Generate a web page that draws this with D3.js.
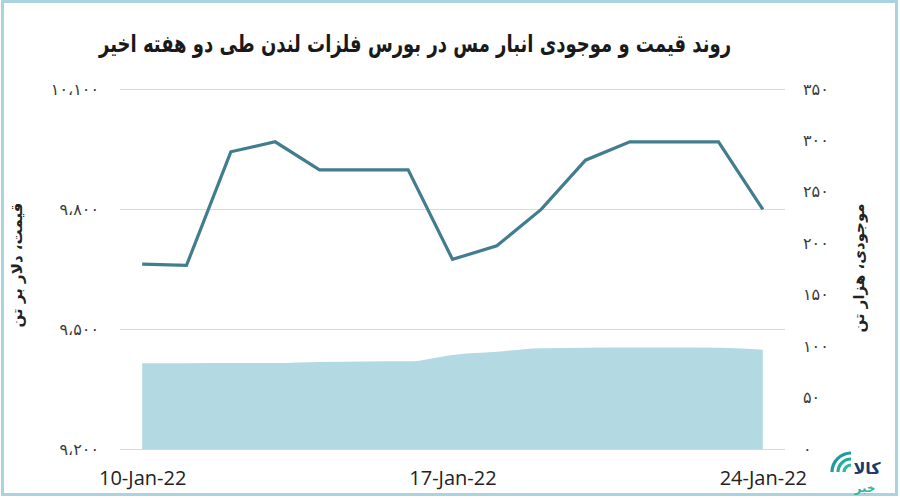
<!DOCTYPE html>
<html><head><meta charset="utf-8">
<script src="https://cdn.jsdelivr.net/npm/d3@7"></script>
<style>html,body{margin:0;padding:0;background:#fff;}svg{display:block;}</style>
</head><body>
<svg id="chart" width="900" height="499"></svg>
<script>
const title = "روند قیمت و موجودی انبار مس در بورس فلزات لندن طی دو هفته اخیر";
const dates = ["10-Jan-22","11-Jan-22","12-Jan-22","13-Jan-22","14-Jan-22","15-Jan-22","16-Jan-22","17-Jan-22","18-Jan-22","19-Jan-22","20-Jan-22","21-Jan-22","22-Jan-22","23-Jan-22","24-Jan-22"];
const dateTickLabels = ["10-Jan-22","17-Jan-22","24-Jan-22"];
const price = [9662,9659,9943,9968,9898,9898,9898,9674,9708,9799,9922,9968,9968,9968,9799];
const inventory = [83.3,83.3,83.5,83.5,84.5,85,85.2,91.5,94.5,98,98.5,98.7,98.7,98.5,96.5];
const priceTicks = [9200,9500,9800,10100];
const priceTickLabels = ["۹،۲۰۰","۹،۵۰۰","۹،۸۰۰","۱۰،۱۰۰"];
const invTicks = [0,50,100,150,200,250,300,350];
const invTickLabels = ["۰","۵۰","۱۰۰","۱۵۰","۲۰۰","۲۵۰","۳۰۰","۳۵۰"];
const leftTitle = "قیمت، دلار بر تن";
const rightTitle = "موجودی، هزار تن";
const logoTop = "کالا";
const logoBottom = "خبر";

const svg = d3.select("#chart");
const L = 120, R = 785, T = 89, B = 449;

const x = d3.scalePoint().domain(dates).range([L, R]).padding(0.5);
const yP = d3.scaleLinear().domain([9200,10100]).range([B, T]);
const yI = d3.scaleLinear().domain([0,350]).range([B, T]);

// border
svg.append("rect").attr("x",2.5).attr("y",1.5).attr("width",894).attr("height",493)
  .attr("fill","none").attr("stroke","#a9d3df").attr("stroke-width",3);

// title
const tt = svg.append("text").attr("transform","translate(415,52) scale(1,1.35)").attr("text-anchor","middle")
  .attr("font-family","DejaVu Sans").attr("font-weight","bold").attr("font-size",24)
  .attr("fill","#1a1a1a")
  .text(title);
const tw = tt.node().getComputedTextLength();
if (tw > 632) tt.attr("font-size", 24 * 632 / tw);

// gridlines
svg.append("g").selectAll("line").data(priceTicks).join("line")
  .attr("x1",L).attr("x2",R).attr("y1",d=>yP(d)+0.5).attr("y2",d=>yP(d)+0.5)
  .attr("stroke","#d9d9d9").attr("stroke-width",1);

// area
const area = d3.area().x((d,i)=>x(dates[i])).y0(yI(0)).y1(d=>yI(d)).curve(d3.curveMonotoneX);
svg.append("path").datum(inventory).attr("d",area).attr("fill","#b3dae3");

// bottom line
svg.append("line").attr("x1",L).attr("x2",R).attr("y1",B+0.5).attr("y2",B+0.5)
  .attr("stroke","#d9d9d9");

// price line
const line = d3.line().x((d,i)=>x(dates[i])).y(d=>yP(d));
svg.append("path").datum(price).attr("d",line).attr("fill","none")
  .attr("stroke","#417d8e").attr("stroke-width",3.2).attr("stroke-linejoin","miter");

// left axis
const la = d3.axisLeft(yP).tickValues(priceTicks).tickSize(0)
  .tickFormat((d,i)=>priceTickLabels[i]);
const gl = svg.append("g").attr("transform","translate(99,0)").call(la);
gl.select(".domain").remove();
gl.selectAll("text").attr("font-family","DejaVu Sans").attr("font-size",16).attr("fill","#3a3a3a").attr("x",0);

// right axis
const ra = d3.axisRight(yI).tickValues(invTicks).tickSize(0)
  .tickFormat((d,i)=>invTickLabels[i]);
const gr = svg.append("g").attr("transform","translate(803,0)").call(ra);
gr.select(".domain").remove();
gr.selectAll("text").attr("font-family","DejaVu Sans").attr("font-size",16).attr("fill","#3a3a3a").attr("x",0);

// bottom axis
const ba = d3.axisBottom(x).tickValues(dateTickLabels).tickSize(0);
const gb = svg.append("g").attr("transform",`translate(0,${B})`).call(ba);
gb.select(".domain").remove();
gb.selectAll("text").attr("font-family","Open Sans").attr("font-size",20).attr("fill","#222").attr("dy",0).attr("y",36);

// axis titles
svg.append("text").attr("transform","translate(22,265) rotate(-90)").attr("text-anchor","middle")
  .attr("font-family","DejaVu Sans").attr("font-weight","bold").attr("font-size",15).attr("fill","#222")
  .text(leftTitle);
svg.append("text").attr("transform","translate(864,268) rotate(-90)").attr("text-anchor","middle")
  .attr("font-family","DejaVu Sans").attr("font-weight","bold").attr("font-size",15).attr("fill","#222")
  .text(rightTitle);

// logo
const lg = svg.append("g");
[7,13,19].forEach((r,i)=>{
  const arc = d3.arc().innerRadius(r-1.6).outerRadius(r+1.6).startAngle(-Math.PI/2).endAngle(0);
  lg.append("path").attr("d",arc()).attr("transform","translate(851,472)").attr("fill",["#2fb89a","#25a9a0","#1f99a6"][i]);
});
lg.append("text").attr("x",867).attr("y",474).attr("text-anchor","middle")
  .attr("font-family","DejaVu Sans").attr("font-weight","bold").attr("font-size",16).attr("fill","#1c3b6c").text(logoTop);
lg.append("text").attr("x",865).attr("y",492).attr("text-anchor","middle")
  .attr("font-family","DejaVu Sans").attr("font-weight","bold").attr("font-size",12).attr("fill","#2fb89a").text(logoBottom);
</script>
</body></html>
